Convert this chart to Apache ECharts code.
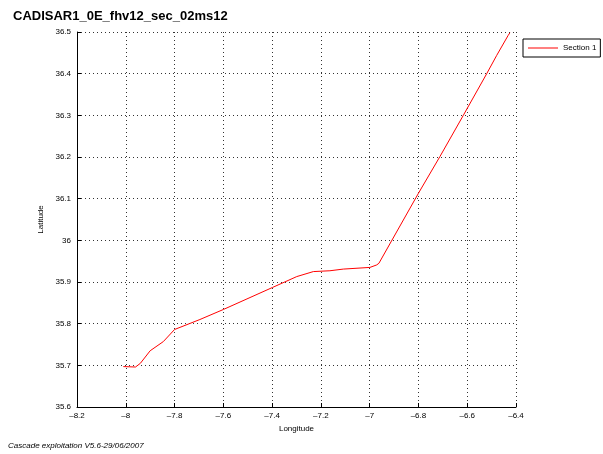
<!DOCTYPE html>
<html><head><meta charset="utf-8">
<script src="https://cdn.jsdelivr.net/npm/echarts@6/dist/echarts.min.js"></script>
<style>html,body{margin:0;padding:0;background:#fff}#c{width:603px;height:454px}</style>
</head><body><div id="c"></div>
<script>
const titleText = "CADISAR1_0E_fhv12_sec_02ms12";
const footerText = "Cascade exploitation V5.6-29/06/2007";
const seriesName = "Section 1";
const lon = [-8.01,-7.96,-7.94,-7.90,-7.846,-7.80,-7.696,-7.60,-7.398,-7.299,-7.231,-7.163,-7.108,-6.999,-6.971,-6.962,-6.80,-6.712,-6.616,-6.52,-6.479,-6.432,-6.425];
const lat = [35.697,35.696,35.705,35.735,35.757,35.786,35.810,35.834,35.887,35.913,35.925,35.927,35.931,35.935,35.941,35.945,36.113,36.201,36.300,36.400,36.444,36.492,36.498];
const xTicks = [-8.2,-8,-7.8,-7.6,-7.4,-7.2,-7,-6.8,-6.6,-6.4];
const yTicks = [35.6,35.7,35.8,35.9,36,36.1,36.2,36.3,36.4,36.5];

const chart = echarts.init(document.getElementById('c'), null, {renderer:'canvas'});
const font = 'Liberation Sans';
const gridLine = {show:true, lineStyle:{color:'#333', type:[1,3], width:1}};
chart.setOption({
  animation:false,
  backgroundColor:'#fff',
  title:{text:titleText, left:8, top:5, textStyle:{fontFamily:font, fontSize:13, fontWeight:'bold', color:'#000'}},
  graphic:[{type:'text', left:8, top:442, style:{text:footerText, font:'italic 8px '+font, fill:'#000'}}],
  legend:{show:true, left:523, top:39, orient:'vertical', data:[{name:seriesName, icon:'rect'}], borderColor:'#000', borderWidth:1, borderRadius:0,
    padding:[5,4,5,5], itemWidth:30, itemHeight:1, itemGap:4,
    textStyle:{fontFamily:font, fontSize:8, color:'#000'}},
  grid:{left:77, right:87, top:32, bottom:47, containLabel:false},
  xAxis:{type:'value', min:-8.2, max:-6.4, interval:0.2,
    name:'Longitude', nameLocation:'middle', nameGap:16, nameTextStyle:{fontFamily:font, fontSize:8, color:'#000'},
    axisLine:{show:true, onZero:false, lineStyle:{color:'#000', width:1}},
    axisTick:{show:true, inside:true, length:4, lineStyle:{color:'#000'}},
    axisLabel:{fontFamily:font, fontSize:8, color:'#000', margin:5, showMinLabel:true, showMaxLabel:true,
      formatter:v=>{const r=Math.round(v*10)/10; return String(r).replace('-','\u2013');}},
    splitLine:gridLine},
  yAxis:{type:'value', min:35.6, max:36.5, interval:0.1,
    name:'Latitude', nameLocation:'middle', nameGap:32, nameRotate:90, nameTextStyle:{fontFamily:font, fontSize:8, color:'#000'},
    axisLine:{show:true, onZero:false, lineStyle:{color:'#000', width:1}},
    axisTick:{show:true, inside:true, length:4, lineStyle:{color:'#000'}},
    axisLabel:{fontFamily:font, fontSize:8, color:'#000', margin:6, showMinLabel:true, showMaxLabel:true,
      formatter:v=>String(Math.round(v*10)/10)},
    splitLine:gridLine},
  series:[{name:seriesName, type:'line', symbol:'none', smooth:false,
    lineStyle:{color:'#ff0000', width:1}, itemStyle:{color:'#ff0000'},
    data:lon.map((x,i)=>[x,lat[i]])}]
});
</script></body></html>
